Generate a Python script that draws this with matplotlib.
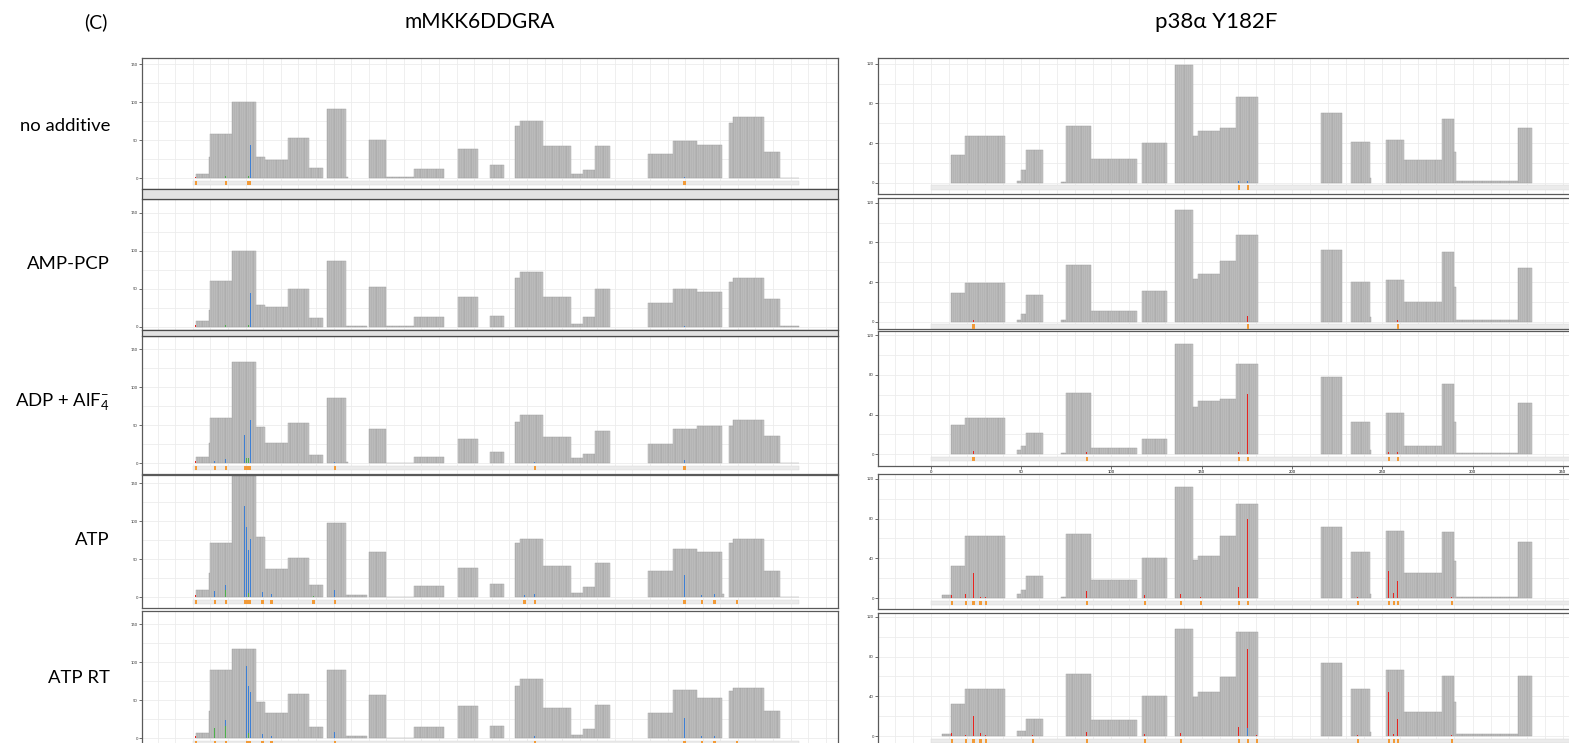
import matplotlib.pyplot as plt
import matplotlib.patches as mpatches
import numpy as np

plt.rcParams['font.family'] = ['Lato', 'DejaVu Sans']

conditions = ['no additive', 'AMP-PCP', 'ADP + AlF$\\mathregular{_4^{-}}$', 'ATP', 'ATP RT']
titles = ['mMKK6DDGRA', 'p38\u03b1 Y182F']

# coverage segments (residue start, residue end) and depth per condition
left_segs = [(2, 9), (9, 10), (10, 22), (22, 36), (36, 41), (41, 54), (54, 66), (66, 74),
             (76, 87), (87, 88), (88, 99), (100, 110), (110, 126), (126, 143), (151, 162),
             (169, 177), (183, 186), (186, 199), (199, 215), (215, 222), (222, 229), (229, 237),
             (259, 273), (273, 287), (287, 301), (301, 302), (305, 307), (307, 325), (325, 334),
             (334, 345)]
left_cov = [
    [6, 28, 58, 100, 28, 24, 53, 13, 91, 2, 0, 51, 1.5, 12, 38, 18, 69, 75, 42, 5, 11, 42, 32, 49, 44, 0, 73, 80, 35, 1],
    [8, 22, 60, 100, 29, 26, 50, 12, 87, 1.3, 1.3, 53, 1.3, 13, 39, 14, 64, 72, 39, 4, 13, 50, 32, 50, 46, 0, 59, 65, 37, 1],
    [8, 27, 59, 133, 48, 27, 53, 11, 86, 2, 0, 45, 0.5, 8, 32, 15, 54, 63, 34, 7, 12, 43, 26, 45, 49, 0, 49, 57, 36, 0.5],
    [9, 32, 71, 160, 80, 37, 52, 16, 98, 2.6, 2.6, 60, 1, 15, 38, 17, 72, 77, 41, 6, 14, 45, 35, 64, 60, 5, 72, 77, 35, 0.5],
    [7, 35, 89, 117, 47, 33, 58, 14, 89, 2, 2, 57, 0.5, 14, 42, 16, 68, 78, 40, 4, 12, 43, 33, 63, 53, 0, 62, 66, 35, 0],
]
# mismatches: (residue, count, base colour key)
left_mm = [
    [(32, 44, 'b'), (1, 2, 'r'), (18, 3, 'g'), (31, 3, 'g'), (279, 1.5, 'b')],
    [(32, 45, 'b'), (1, 3, 'r'), (18, 2, 'g'), (31, 2, 'g'), (279, 1.5, 'b')],
    [(29, 37, 'b'), (32, 57, 'b'), (30, 7, 'g'), (31, 7, 'g'), (18, 6, 'b'), (12, 3, 'b'),
     (1, 3, 'r'), (80, 2, 'b'), (194, 2, 'b'), (279, 4, 'b')],
    [(29, 120, 'b'), (30, 93, 'b'), (32, 77, 'b'), (31, 62, 'b'), (31, 6, 'g'), (12, 8, 'b'),
     (18, 16, 'b'), (18, 10, 'g'), (39, 7, 'b'), (44, 4, 'b'), (80, 10, 'b'), (279, 29, 'b'),
     (194, 4, 'b'), (188, 3, 'b'), (289, 3, 'b'), (296, 4, 'b'), (309, 4, 'b'), (1, 3, 'r'), (68, 1.5, 'g')],
    [(30, 95, 'b'), (31, 68, 'b'), (32, 60, 'b'), (18, 24, 'b'), (12, 13, 'g'), (18, 16, 'g'),
     (31, 6, 'g'), (80, 8, 'b'), (279, 26, 'b'), (1, 3, 'r'), (39, 5, 'b'), (44, 3, 'b'),
     (289, 3, 'b'), (296, 2, 'b'), (309, 3, 'b'), (194, 3, 'b')],
]

right_segs = [(6, 11), (11, 19), (19, 41), (48, 50), (50, 53), (53, 62), (72, 75), (75, 89),
              (89, 114), (117, 131), (135, 145), (145, 148), (148, 160), (160, 169), (169, 181),
              (216, 228), (233, 243), (243, 244), (252, 262), (262, 283), (283, 290), (290, 291),
              (291, 325), (325, 333)]
right_cov = [
    [0, 28, 47, 1.5, 13, 33, 1, 57, 24, 40, 119, 47, 52, 55, 86, 70, 41, 5, 43, 23, 64, 31, 1.7, 55],
    [0, 29, 39, 2, 8, 27, 1.7, 57, 11, 31, 113, 43, 48, 61, 87, 72, 40, 5, 42, 20, 70, 35, 1.3, 54],
    [0, 30, 37, 4, 8, 21, 1.3, 62, 6, 15, 111, 48, 54, 56, 91, 78, 33, 4, 42, 8, 71, 33, 1, 52],
    [3, 32, 62, 4, 8, 22, 1, 65, 18, 40, 112, 38, 42, 62, 95, 72, 46, 4, 68, 25, 67, 37, 1, 56],
    [2, 32, 47, 5, 5, 17, 0, 62, 16, 40, 108, 39, 44, 59, 105, 74, 47, 4, 67, 24, 60, 34, 2, 60],
]
right_mm = [
    [(170, 1.5, 'b'), (175, 1.5, 'b')],
    [(175, 6, 'r'), (23, 2, 'r'), (258, 2, 'r')],
    [(175, 61, 'r'), (170, 2, 'r'), (23, 3, 'r'), (86, 2, 'r'), (253, 2, 'r'), (258, 2, 'r')],
    [(23, 25, 'r'), (19, 4, 'r'), (11, 3, 'r'), (27, 1.5, 'r'), (30, 1.5, 'r'), (86, 7, 'r'),
     (118, 3, 'r'), (138, 4, 'r'), (170, 11, 'r'), (175, 80, 'r'), (253, 27, 'r'), (256, 5, 'r'),
     (258, 17, 'r'), (288, 1.5, 'r'), (236, 1.5, 'r'), (149, 1.5, 'r')],
    [(23, 20, 'r'), (11, 3, 'r'), (19, 1.5, 'r'), (27, 3, 'r'), (30, 1.5, 'r'), (56, 1.5, 'r'),
     (86, 4, 'r'), (118, 2, 'r'), (138, 3, 'r'), (170, 9, 'r'), (175, 88, 'r'), (175, 8, 'b'),
     (253, 44, 'r'), (256, 2, 'r'), (258, 17, 'r'), (236, 1.5, 'r'), (288, 1.5, 'r'), (180, 1.5, 'r')],
]
left_len, right_len = 345, 360

mm_colors = {'r': '#e8231f', 'b': '#3d7fd4', 'g': '#4cb04a'}

W, H = 1569, 743
fig = plt.figure(figsize=(W / 100, H / 100), dpi=100)


def add_ax(x0, x1, y0, y1):
    return fig.add_axes([x0 / W, 1 - y1 / H, (x1 - x0) / W, (y1 - y0) / H])


def draw_panel(ax, segs, cov, mm, seq_len, ymajor, yminor, strip_y, xlim, ylim):
    ax.set_facecolor('white')
    for (s, e), v in zip(segs, cov):
        if v <= 0:
            continue
        pos = np.arange(s, e) + 0.5
        ax.bar(pos, [v] * len(pos), width=1, color='#c3c3c3', edgecolor='#9d9d9d',
               linewidth=0.3, zorder=2)
    for p, h, c in mm:
        ax.bar(p + 0.5, h, width=0.55, color=mm_colors[c], linewidth=0, zorder=3)
    # sequence track under the coverage
    ax.add_patch(mpatches.Rectangle((0, strip_y - 2.2), seq_len, 4.4, facecolor='#ebebeb',
                                    edgecolor='#d6d6d6', linewidth=0.3, zorder=2))
    for p, h, c in mm:
        ax.add_patch(mpatches.Rectangle((p, strip_y - 2.2), 1.3, 4.4, facecolor='#f29b38',
                                        linewidth=0, zorder=3))
    ax.set_xticks(np.arange(0, 351, 50))
    ax.set_xticks(np.arange(-20, 361, 10), minor=True)
    ax.set_yticks(ymajor)
    ax.set_yticks(yminor, minor=True)
    ax.set_xlim(xlim)
    ax.set_ylim(ylim)
    ax.grid(which='both', color='#ececec', linewidth=0.6, zorder=0)
    ax.set_axisbelow(True)
    ax.tick_params(axis='y', which='major', labelsize=3, length=2, width=0.5, pad=1,
                   colors='#333333')
    ax.tick_params(axis='both', which='minor', length=0)
    ax.tick_params(axis='x', which='major', length=0, labelbottom=False)
    for sp in ax.spines.values():
        sp.set_color('#5a5a5a')
        sp.set_linewidth(0.9)


# left column: mMKK6DDGRA
left_rows = [(58, 189, 178.3), (199, 330, 327), (336, 474, 463.3), (475, 608, 597.3), (611, 760, 738)]
lx0, lx1, lzero, lscale = 142, 838, 192.9, 1.758
for i, (top, bot, zero) in enumerate(left_rows):
    ax = add_ax(lx0, lx1, top, bot)
    draw_panel(ax, left_segs, left_cov[i], left_mm[i], left_len,
               [0, 50, 100, 150], np.arange(0, 151, 25), -6,
               ((lx0 - lzero) / lscale, (lx1 - lzero) / lscale),
               ((zero - bot) / 0.76, (zero - top) / 0.76))
    if i == 2:
        ax.tick_params(axis='x', which='major', length=2, width=0.5, color='#333333')

# right column: p38a Y182F
right_rows = [(58, 194, 182.7), (198, 329, 321.7), (331, 466, 454.3), (474, 609, 598), (613, 760, 736)]
rx0, rx1, rzero, rscale = 878, 1600, 930.7, 1.806
for i, (top, bot, zero) in enumerate(right_rows):
    ax = add_ax(rx0, rx1, top, bot)
    draw_panel(ax, right_segs, right_cov[i], right_mm[i], right_len,
               [0, 40, 80, 120], np.arange(0, 121, 20), -5,
               ((rx0 - rzero) / rscale, (rx1 - rzero) / rscale),
               ((zero - bot) / 0.992, (zero - top) / 0.992))
    if i == 2:
        ax.tick_params(axis='x', which='major', length=2, width=0.5, color='#333333',
                       labelbottom=True, labelsize=3, pad=1)

# grey strip headers between stacked screenshots
for y0, y1 in [(189, 199), (330, 336)]:
    fig.patches.append(mpatches.Rectangle((lx0 / W, 1 - y1 / H), (lx1 - lx0) / W, (y1 - y0) / H,
                                          transform=fig.transFigure, facecolor='#e2e2e2',
                                          edgecolor='#4a4a4a', linewidth=0.9, zorder=5))

fig.text(96 / W, 1 - 22 / H, '(C)', ha='center', va='center', fontsize=14)
fig.text(480 / W, 1 - 22 / H, titles[0], ha='center', va='center', fontsize=15)
fig.text(1216 / W, 1 - 22 / H, titles[1], ha='center', va='center', fontsize=16)
for lab, yc in zip(conditions, [126, 264, 402, 540, 678]):
    fig.text(110 / W, 1 - yc / H, lab, ha='right', va='center', fontsize=13.3)

fig.savefig('out.png', dpi=100)
